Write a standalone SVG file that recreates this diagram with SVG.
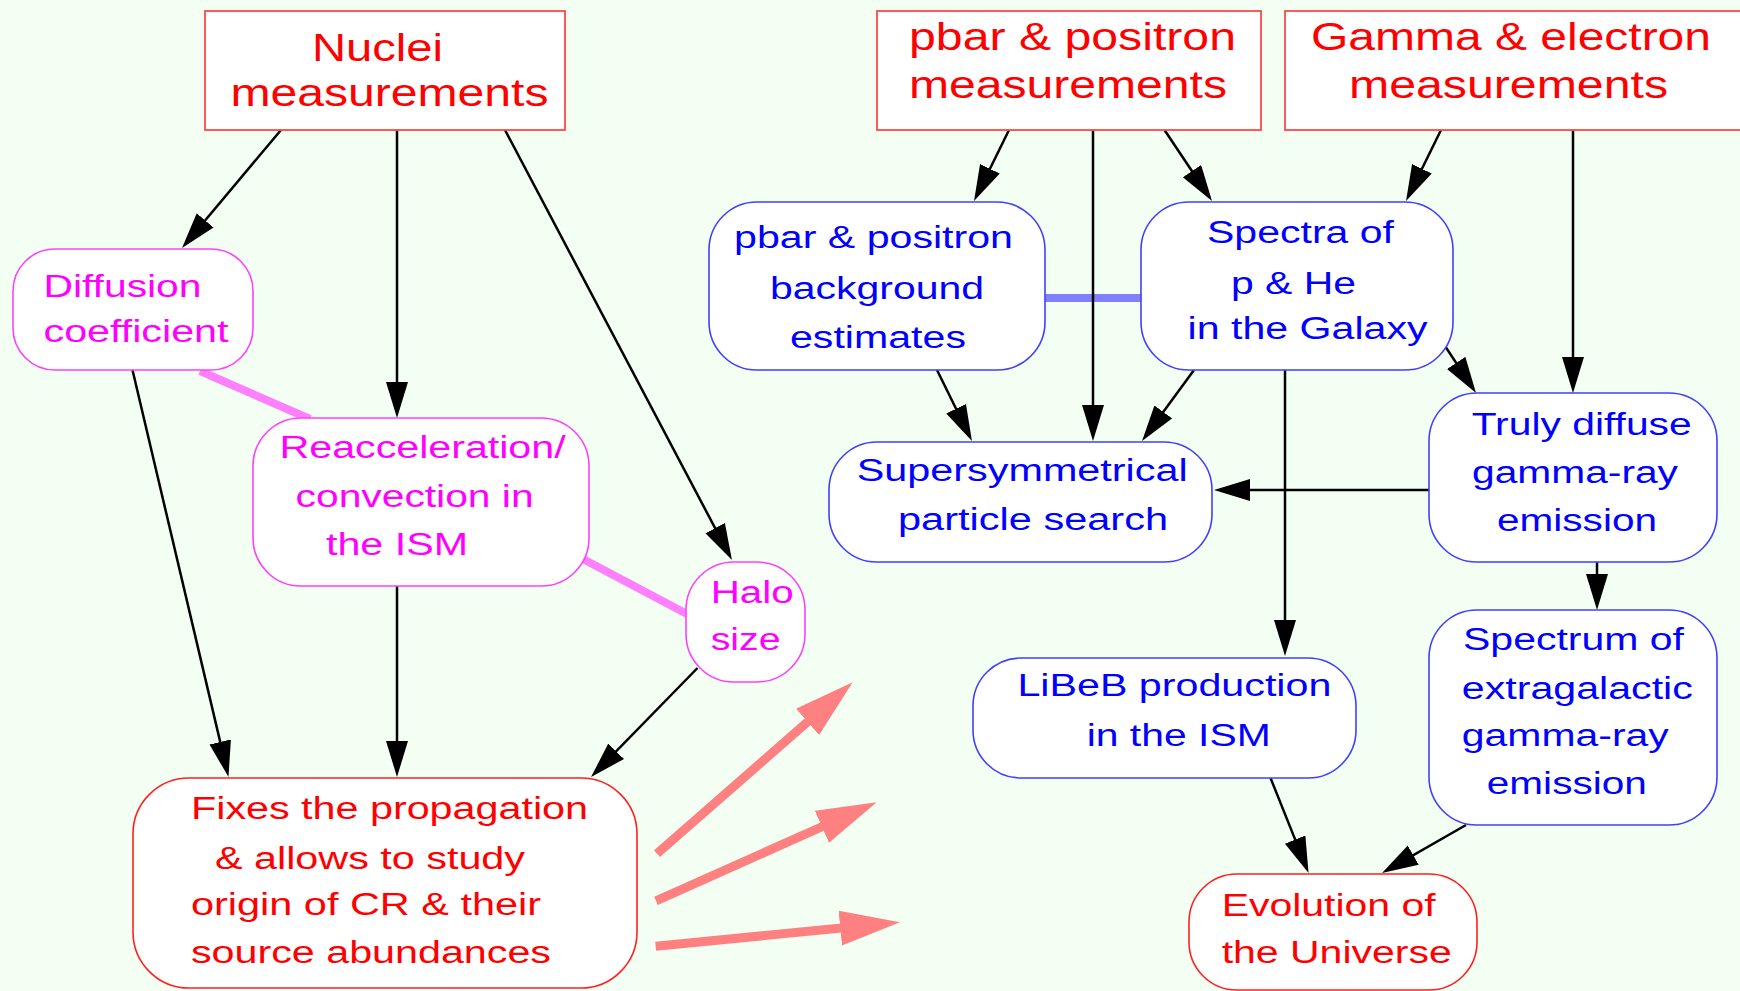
<svg xmlns="http://www.w3.org/2000/svg" width="1740" height="991" viewBox="0 0 1740 991">
<style>
.bg{fill:#f4fff4}
.rbox{fill:#ffffff;stroke:#ff4848;stroke-width:1.8}
.bnode{fill:#ffffff;stroke:#4040ff;stroke-width:1.6}
.mnode{fill:#ffffff;stroke:#ff40ff;stroke-width:1.6}
.rnode{fill:#ffffff;stroke:#ff2020;stroke-width:1.6}
text{font-family:"Liberation Sans",Arial,sans-serif}
.th{font-size:38px;fill:#ff0000}
.tr{font-size:31px;fill:#ff0000}
.tb{font-size:31px;fill:#0000ff}
.tm{font-size:31px;fill:#ff00ff}
.e{stroke:#000000;stroke-width:2.5;fill:none;marker-end:url(#ah)}
.pl{stroke:#ff80ff;stroke-width:8;fill:none}
.bl{stroke:#8080ff;stroke-width:8;fill:none}
.big{stroke:#ff8080;stroke-width:9;fill:none;marker-end:url(#pah)}
</style>
<defs>
<marker id="ah" markerUnits="userSpaceOnUse" markerWidth="40" markerHeight="24" refX="20" refY="11" orient="auto">
<path d="M0,0 L36,11 L0,22 z" fill="#000000"/>
</marker>
<marker id="pah" markerUnits="userSpaceOnUse" markerWidth="64" markerHeight="38" refX="30" refY="17.5" orient="auto">
<path d="M0,0 L60,17.5 L0,35 z" fill="#ff8080"/>
</marker>
</defs>
<rect class="bg" x="0" y="0" width="1740" height="991"/>

<g id="connectors">
<line class="pl" x1="200" y1="371" x2="310" y2="419"/>
<line class="pl" x1="583" y1="559" x2="687" y2="614"/>
<line class="bl" x1="1045" y1="298" x2="1141" y2="298"/>
<line class="e" x1="281" y1="130" x2="192.3" y2="235.7"/>
<line class="e" x1="397" y1="130" x2="397" y2="402"/>
<line class="e" x1="505" y1="130" x2="724.5" y2="545.9"/>
<line class="e" x1="132.5" y1="370" x2="224.8" y2="761.4"/>
<line class="e" x1="397" y1="586" x2="397" y2="761"/>
<line class="e" x1="697.5" y1="668" x2="602.2" y2="765.6"/>
<line class="e" x1="1009" y1="130" x2="981.1" y2="186.7"/>
<line class="e" x1="1093" y1="130" x2="1093" y2="425"/>
<line class="e" x1="1164.5" y1="130" x2="1203.1" y2="187.7"/>
<line class="e" x1="1441" y1="130" x2="1413.1" y2="186.7"/>
<line class="e" x1="1573" y1="130" x2="1573" y2="377"/>
<line class="e" x1="1445" y1="346" x2="1467.2" y2="379.6"/>
<line class="e" x1="1194" y1="370" x2="1151.5" y2="428.1"/>
<line class="e" x1="937" y1="370" x2="964.9" y2="426.7"/>
<line class="e" x1="1429" y1="490" x2="1230" y2="490"/>
<line class="e" x1="1285" y1="370" x2="1285" y2="640"/>
<line class="e" x1="1597" y1="562" x2="1597" y2="594"/>
<line class="e" x1="1270.5" y1="778" x2="1302.6" y2="858.1"/>
<line class="e" x1="1466" y1="825" x2="1395.9" y2="865.1"/>
<line class="big" x1="657" y1="853.7" x2="830.1" y2="702.1"/>
<line class="big" x1="656" y1="900.8" x2="849.3" y2="814.5"/>
<line class="big" x1="655.7" y1="946.3" x2="870.1" y2="925.2"/>
</g>

<g id="nuclei">
<rect class="rbox" x="205" y="11" width="360" height="119"/>
<text class="th" x="312" y="61" textLength="131" lengthAdjust="spacingAndGlyphs">Nuclei</text>
<text class="th" x="230.5" y="106" textLength="318" lengthAdjust="spacingAndGlyphs">measurements</text>
</g>

<g id="pbar-meas">
<rect class="rbox" x="877" y="11" width="384" height="119"/>
<text class="th" x="909" y="50" textLength="327" lengthAdjust="spacingAndGlyphs">pbar &amp; positron</text>
<text class="th" x="909" y="98" textLength="318" lengthAdjust="spacingAndGlyphs">measurements</text>
</g>

<g id="gamma-meas">
<rect class="rbox" x="1285" y="11" width="465" height="119"/>
<text class="th" x="1311" y="50" textLength="400" lengthAdjust="spacingAndGlyphs">Gamma &amp; electron</text>
<text class="th" x="1349" y="98" textLength="319" lengthAdjust="spacingAndGlyphs">measurements</text>
</g>

<g id="diffusion">
<rect class="mnode" x="13" y="249" width="240" height="121" rx="42" ry="42"/>
<text class="tm" x="43.5" y="297" textLength="158" lengthAdjust="spacingAndGlyphs">Diffusion</text>
<text class="tm" x="43.5" y="342" textLength="185" lengthAdjust="spacingAndGlyphs">coefficient</text>
</g>

<g id="reacceleration">
<rect class="mnode" x="253" y="418" width="336" height="168" rx="48" ry="48"/>
<text class="tm" x="279.6" y="458" textLength="286" lengthAdjust="spacingAndGlyphs">Reacceleration/</text>
<text class="tm" x="295.6" y="507" textLength="238" lengthAdjust="spacingAndGlyphs">convection in</text>
<text class="tm" x="326" y="555" textLength="142" lengthAdjust="spacingAndGlyphs">the ISM</text>
</g>

<g id="halo">
<rect class="mnode" x="686" y="562" width="119" height="120" rx="48" ry="48"/>
<text class="tm" x="710.7" y="603" textLength="83" lengthAdjust="spacingAndGlyphs">Halo</text>
<text class="tm" x="710.7" y="650" textLength="70" lengthAdjust="spacingAndGlyphs">size</text>
</g>

<g id="fixes">
<rect class="rnode" x="133" y="778" width="504" height="210" rx="56" ry="56"/>
<text class="tr" x="191" y="819" textLength="397" lengthAdjust="spacingAndGlyphs">Fixes the propagation</text>
<text class="tr" x="215" y="869" textLength="310" lengthAdjust="spacingAndGlyphs">&amp; allows to study</text>
<text class="tr" x="191" y="915" textLength="350" lengthAdjust="spacingAndGlyphs">origin of CR &amp; their</text>
<text class="tr" x="191" y="963" textLength="360" lengthAdjust="spacingAndGlyphs">source abundances</text>
</g>

<g id="pbar-background">
<rect class="bnode" x="709" y="202" width="336" height="168" rx="48" ry="48"/>
<text class="tb" x="734" y="248" textLength="279" lengthAdjust="spacingAndGlyphs">pbar &amp; positron</text>
<text class="tb" x="770" y="299" textLength="214" lengthAdjust="spacingAndGlyphs">background</text>
<text class="tb" x="790" y="348" textLength="176" lengthAdjust="spacingAndGlyphs">estimates</text>
</g>

<g id="spectra-phe">
<rect class="bnode" x="1141" y="202" width="312" height="168" rx="48" ry="48"/>
<text class="tb" x="1207" y="243" textLength="187" lengthAdjust="spacingAndGlyphs">Spectra of</text>
<text class="tb" x="1231" y="294" textLength="125" lengthAdjust="spacingAndGlyphs">p &amp; He</text>
<text class="tb" x="1187.6" y="339" textLength="240" lengthAdjust="spacingAndGlyphs">in the Galaxy</text>
</g>

<g id="truly-diffuse">
<rect class="bnode" x="1429" y="393" width="288" height="169" rx="48" ry="48"/>
<text class="tb" x="1471.7" y="435" textLength="220" lengthAdjust="spacingAndGlyphs">Truly diffuse</text>
<text class="tb" x="1472" y="483" textLength="206" lengthAdjust="spacingAndGlyphs">gamma-ray</text>
<text class="tb" x="1497" y="531" textLength="160" lengthAdjust="spacingAndGlyphs">emission</text>
</g>

<g id="supersymmetrical">
<rect class="bnode" x="829" y="442" width="383" height="120" rx="48" ry="48"/>
<text class="tb" x="856.7" y="480.5" textLength="331" lengthAdjust="spacingAndGlyphs">Supersymmetrical</text>
<text class="tb" x="898" y="530" textLength="270" lengthAdjust="spacingAndGlyphs">particle search</text>
</g>

<g id="libeb">
<rect class="bnode" x="973" y="658" width="383" height="120" rx="48" ry="48"/>
<text class="tb" x="1017.4" y="696.4" textLength="314" lengthAdjust="spacingAndGlyphs">LiBeB production</text>
<text class="tb" x="1086.7" y="746" textLength="184" lengthAdjust="spacingAndGlyphs">in the ISM</text>
</g>

<g id="extragalactic">
<rect class="bnode" x="1429" y="610" width="288" height="215" rx="48" ry="48"/>
<text class="tb" x="1463" y="650" textLength="221" lengthAdjust="spacingAndGlyphs">Spectrum of</text>
<text class="tb" x="1461.8" y="699" textLength="231" lengthAdjust="spacingAndGlyphs">extragalactic</text>
<text class="tb" x="1461.8" y="746" textLength="207" lengthAdjust="spacingAndGlyphs">gamma-ray</text>
<text class="tb" x="1486.8" y="794" textLength="160" lengthAdjust="spacingAndGlyphs">emission</text>
</g>

<g id="evolution">
<rect class="rnode" x="1189" y="874" width="288" height="116" rx="48" ry="48"/>
<text class="tr" x="1221.7" y="916" textLength="214" lengthAdjust="spacingAndGlyphs">Evolution of</text>
<text class="tr" x="1221.7" y="963" textLength="230" lengthAdjust="spacingAndGlyphs">the Universe</text>
</g>
</svg>
